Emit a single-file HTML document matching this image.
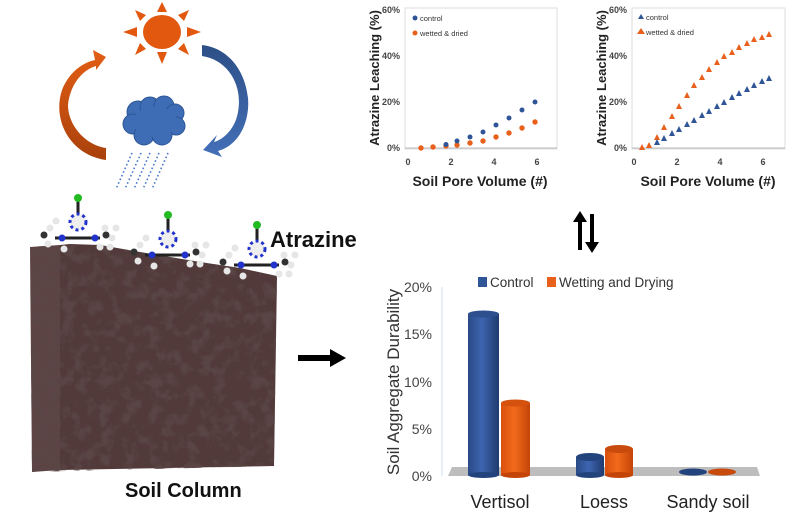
<!DOCTYPE html>
<html><head><meta charset="utf-8"><style>
html,body{margin:0;padding:0;background:#fff;}
svg{display:block;font-family:"Liberation Sans",sans-serif;}
</style></head><body>
<svg width="794" height="525" viewBox="0 0 794 525" xmlns="http://www.w3.org/2000/svg">
<defs>
<filter id="tex" x="0" y="0" width="100%" height="100%">
<feTurbulence type="fractalNoise" baseFrequency="0.08" numOctaves="3" seed="7"/>
<feColorMatrix values="0 0 0 0 0.1  0 0 0 0 0.06  0 0 0 0 0.06  0 0 0 -4 2.1"/>
<feComposite in2="SourceGraphic" operator="in"/>
</filter>
<linearGradient id="bb" x1="0" x2="1"><stop offset="0" stop-color="#2a4a86"/><stop offset=".45" stop-color="#3d65b0"/><stop offset="1" stop-color="#1f3a6e"/></linearGradient>
<linearGradient id="ob" x1="0" x2="1"><stop offset="0" stop-color="#d9500f"/><stop offset=".45" stop-color="#f26a1b"/><stop offset="1" stop-color="#c44408"/></linearGradient>
<linearGradient id="oa" x1="0" y1="0" x2="0" y2="1"><stop offset="0" stop-color="#e35e14"/><stop offset="1" stop-color="#a9410c"/></linearGradient>
<linearGradient id="ba" x1="0" y1="0" x2="0" y2="1"><stop offset="0" stop-color="#2d4f86"/><stop offset="1" stop-color="#4470b8"/></linearGradient>
</defs>

<g fill="#e2580f">
<ellipse cx="162" cy="32" rx="19" ry="17"/>
<polygon points="162,2 157,12 167,12"/><polygon points="162,64 157,52 167,52"/>
<polygon points="123,32 137,27 137,37"/><polygon points="201,32 187,27 187,37"/>
<polygon points="135,10 146,15 140,21"/><polygon points="189,10 178,15 184,21"/>
<polygon points="135,55 146,49 140,43"/><polygon points="189,55 178,49 184,43"/>
</g>
<path d="M106,148 L106,160 C70,155 52,120 62,90 C70,70 85,62 95,60 L93,50 L106,57 L96,70 L96,66 C82,70 70,85 68,105 C68,125 85,145 106,148 Z" fill="url(#oa)"/>
<path d="M202,45 L202,56 C228,60 243,85 238,112 C235,130 222,140 214,142 L217,135 L203,150 L222,157 L218,151 C240,145 250,120 248,98 C245,70 228,48 202,45 Z" fill="url(#ba)"/>
<g fill="#3f6db5" stroke="#2c5596" stroke-width="1">
<circle cx="138" cy="112" r="11"/><circle cx="150" cy="107" r="10"/><circle cx="164" cy="106" r="10"/><circle cx="175" cy="113" r="9"/>
<circle cx="133" cy="124" r="10"/><circle cx="176" cy="126" r="9"/><circle cx="144" cy="135" r="10"/><circle cx="162" cy="135" r="10"/>
<ellipse cx="155" cy="122" rx="22" ry="15" stroke="none"/>
</g>
<g stroke="#4a7acc" stroke-width="1.6" stroke-dasharray="1.6 2.4">
<line x1="132" y1="153" x2="116" y2="189"/><line x1="141" y1="153" x2="125" y2="189"/><line x1="150" y1="153" x2="134" y2="189"/>
<line x1="159" y1="153" x2="143" y2="189"/><line x1="168" y1="153" x2="152" y2="189"/>
</g>

<!-- soil column -->
<g>
<polygon points="30,247 60,245 60,470 32,472" fill="#5c4444"/>
<polygon points="60,245 70,244 100,245 140,252 200,262 240,268 277,276 274,466 60,470" fill="#523a3a"/>
<polygon points="30,247 70,244 100,245 140,252 200,262 240,268 277,276 274,466 32,472" fill="#000" filter="url(#tex)"/>
</g>
<g>
<g id="mol">
<line x1="78" y1="201" x2="78" y2="221" stroke="#222" stroke-width="3"/>
<circle cx="78" cy="222" r="8" fill="#eee" stroke="#2233cc" stroke-width="3" stroke-dasharray="3 3"/>
<line x1="55" y1="238" x2="100" y2="238" stroke="#222" stroke-width="3"/>
<circle cx="78" cy="198" r="4" fill="#22bb22"/>
<circle cx="62" cy="238" r="3.5" fill="#2233cc"/><circle cx="95" cy="238" r="3.5" fill="#2233cc"/>
<circle cx="50" cy="228" r="3.5" fill="#e6e6e6"/><circle cx="48" cy="244" r="3.5" fill="#e6e6e6"/><circle cx="56" cy="221" r="3.5" fill="#e6e6e6"/>
<circle cx="105" cy="228" r="3.5" fill="#e6e6e6"/><circle cx="112" cy="238" r="3.5" fill="#e6e6e6"/><circle cx="116" cy="228" r="3.5" fill="#e6e6e6"/><circle cx="110" cy="247" r="3.5" fill="#e6e6e6"/>
<circle cx="64" cy="249" r="3.5" fill="#e6e6e6"/><circle cx="100" cy="247" r="3.5" fill="#e6e6e6"/>
<circle cx="44" cy="235" r="3.5" fill="#333"/><circle cx="106" cy="235" r="3.5" fill="#333"/>
</g>
<use href="#mol" x="90" y="17"/>
<use href="#mol" x="179" y="27"/>
</g>
<text x="270" y="247" font-size="22" font-weight="bold" fill="#111">Atrazine</text>
<text x="125" y="497" font-size="20" font-weight="bold" fill="#111">Soil Column</text>

<polygon points="298,355 330,355 330,349 346,358 330,367 330,361 298,361" fill="#000"/>
<polygon points="578,250 578,222 573,222 580,211 587,222 582,222 582,250" fill="#000"/>
<polygon points="590,214 590,242 585,242 592,253 599,242 594,242 594,214" fill="#000"/>

<g font-size="9" fill="#444">
<rect x="405" y="8" width="152" height="141" fill="none" stroke="#ddd"/>
<line x1="405" y1="148" x2="557" y2="148" stroke="#bbb"/>
<g text-anchor="end" font-weight="bold"><text x="400" y="13">60%</text><text x="400" y="59">40%</text><text x="400" y="105">20%</text><text x="400" y="151">0%</text></g>
<g text-anchor="middle" font-weight="bold"><text x="408" y="165">0</text><text x="451" y="165">2</text><text x="494" y="165">4</text><text x="537" y="165">6</text></g>
<text x="480" y="186" font-size="14" font-weight="bold" text-anchor="middle" fill="#222">Soil Pore Volume (#)</text>
<text transform="translate(379,78) rotate(-90)" font-size="13" font-weight="bold" text-anchor="middle" fill="#222">Atrazine Leaching  (%)</text>
<circle cx="415" cy="18" r="2.5" fill="#2f5597"/><text x="420" y="21" font-size="7.5" fill="#333">control</text>
<circle cx="415" cy="33" r="2.5" fill="#e8601c"/><text x="420" y="36" font-size="7.5" fill="#333">wetted &amp; dried</text>
<g fill="#e8601c">
<circle cx="421" cy="148" r="2.7"/><circle cx="433" cy="147" r="2.7"/><circle cx="446" cy="146" r="2.7"/><circle cx="457" cy="145" r="2.7"/><circle cx="470" cy="143" r="2.7"/><circle cx="483" cy="141" r="2.7"/><circle cx="496" cy="137" r="2.7"/><circle cx="509" cy="133" r="2.7"/><circle cx="522" cy="128" r="2.7"/><circle cx="535" cy="122" r="2.7"/>
</g>
<g fill="#2f5597">
<circle cx="446" cy="144.5" r="2.5"/><circle cx="457" cy="141" r="2.5"/><circle cx="470" cy="137" r="2.5"/><circle cx="483" cy="132" r="2.5"/><circle cx="496" cy="125" r="2.5"/><circle cx="509" cy="118" r="2.5"/><circle cx="522" cy="110" r="2.5"/><circle cx="535" cy="102" r="2.5"/>
</g>
</g>

<g font-size="9" fill="#444">
<rect x="632" y="8" width="153" height="141" fill="none" stroke="#ddd"/>
<line x1="632" y1="148" x2="785" y2="148" stroke="#bbb"/>
<g text-anchor="end" font-weight="bold"><text x="627" y="13">60%</text><text x="627" y="59">40%</text><text x="627" y="105">20%</text><text x="627" y="151">0%</text></g>
<g text-anchor="middle" font-weight="bold"><text x="634" y="165">0</text><text x="677" y="165">2</text><text x="720" y="165">4</text><text x="763" y="165">6</text></g>
<text x="708" y="186" font-size="14" font-weight="bold" text-anchor="middle" fill="#222">Soil Pore Volume (#)</text>
<text transform="translate(606,78) rotate(-90)" font-size="13" font-weight="bold" text-anchor="middle" fill="#222">Atrazine Leaching  (%)</text>
<polygon points="641,14 638,19 644,19" fill="#2f5597"/><text x="646" y="20" font-size="7.5" fill="#333">control</text>
<polygon points="641,28 637,34 645,34" fill="#e8601c"/><text x="646" y="35" font-size="7.5" fill="#333">wetted &amp; dried</text>
<g fill="#e8601c">
<polygon points="642,144 639,150 645,150"/><polygon points="649,142 646,148 652,148"/><polygon points="657,134 654,140 660,140"/><polygon points="664,124 661,130 667,130"/><polygon points="672,113 669,119 675,119"/><polygon points="679,103 676,109 682,109"/><polygon points="687,92 684,98 690,98"/><polygon points="694,82 691,88 697,88"/><polygon points="702,74 699,80 705,80"/><polygon points="709,66 706,72 712,72"/><polygon points="717,59 714,65 720,65"/><polygon points="724,53 721,59 727,59"/><polygon points="732,49 729,55 735,55"/><polygon points="739,44 736,50 742,50"/><polygon points="747,40 744,46 750,46"/><polygon points="754,36 751,42 757,42"/><polygon points="762,34 759,40 765,40"/><polygon points="769,31 766,37 772,37"/>
</g>
<g fill="#2f5597">
<polygon points="657,139 654,145 660,145"/><polygon points="664,135 661,141 667,141"/><polygon points="672,130 669,136 675,136"/><polygon points="679,126 676,132 682,132"/><polygon points="687,121 684,127 690,127"/><polygon points="694,117 691,123 697,123"/><polygon points="702,112 699,118 705,118"/><polygon points="709,108 706,114 712,114"/><polygon points="717,103 714,109 720,109"/><polygon points="724,99 721,105 727,105"/><polygon points="732,94 729,100 735,100"/><polygon points="739,90 736,96 742,96"/><polygon points="747,86 744,92 750,92"/><polygon points="754,82 751,88 757,88"/><polygon points="762,78 759,84 765,84"/><polygon points="769,75 766,81 772,81"/>
</g>
</g>

<g>
<line x1="442" y1="287" x2="442" y2="476" stroke="#cfe0f2" stroke-width="1"/>
<g font-size="14" fill="#444" text-anchor="end"><text x="432" y="292">20%</text><text x="432" y="339">15%</text><text x="432" y="387">10%</text><text x="432" y="434">5%</text><text x="432" y="481">0%</text></g>
<text transform="translate(399,382) rotate(-90)" font-size="17" fill="#333" text-anchor="middle">Soil Aggregate Durability</text>
<polygon points="452,467 757,467 760,476 448,476" fill="#bdbdbd"/>
<rect x="478" y="277" width="9" height="10" fill="#2f5597"/><text x="490" y="287" font-size="13.5" fill="#333">Control</text>
<rect x="547" y="277" width="9" height="10" fill="#e8601c"/><text x="559" y="287" font-size="13.5" fill="#333">Wetting and Drying</text>
<rect x="468" y="314" width="31" height="161" fill="url(#bb)"/><ellipse cx="483.5" cy="475" rx="15.5" ry="3" fill="#23437c"/><ellipse cx="483.5" cy="314" rx="15.5" ry="3.5" fill="#2d4f8e"/>
<rect x="501" y="403" width="29" height="72" fill="url(#ob)"/><ellipse cx="515.5" cy="475" rx="14.5" ry="3" fill="#c44408"/><ellipse cx="515.5" cy="403" rx="14.5" ry="3.5" fill="#d4520e"/>
<rect x="576" y="457" width="28" height="18" fill="url(#bb)"/><ellipse cx="590" cy="475" rx="14" ry="3" fill="#23437c"/><ellipse cx="590" cy="457" rx="14" ry="4" fill="#23437c"/>
<rect x="605" y="449" width="28" height="26" fill="url(#ob)"/><ellipse cx="619" cy="475" rx="14" ry="3" fill="#c44408"/><ellipse cx="619" cy="449" rx="14" ry="4" fill="#c84a0c"/>
<ellipse cx="693" cy="472" rx="14" ry="3.5" fill="#23437c"/>
<ellipse cx="722" cy="472" rx="14" ry="3.5" fill="#c84a0c"/>
<g font-size="18" fill="#222" text-anchor="middle"><text x="500" y="508">Vertisol</text><text x="604" y="508">Loess</text><text x="708" y="508">Sandy soil</text></g>
</g>
</svg>
</body></html>
